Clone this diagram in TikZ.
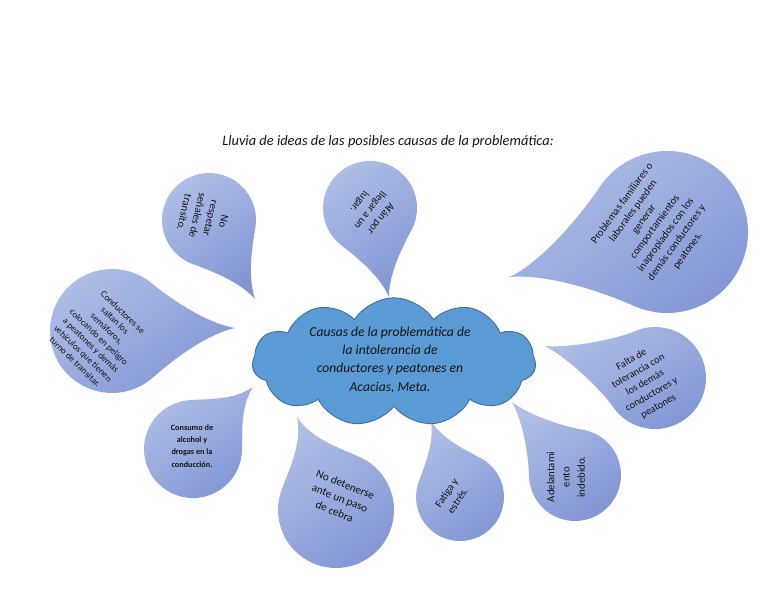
\documentclass[tikz,border=0pt]{standalone}
\usepackage{fontspec}
\setmainfont{Carlito}
\usetikzlibrary{shapes.symbols,calc}
\definecolor{DropLight}{HTML}{AFBEE6}
\definecolor{DropDark}{HTML}{8296D5}
\definecolor{CloudBlue}{HTML}{5B9BD5}
\definecolor{CloudLine}{HTML}{41719C}
\definecolor{Ink}{HTML}{141414}
\tikzset{
 drop/.style={top color=DropLight, bottom color=DropDark, shading angle=35},
 cloudbox/.style={cloud, cloud puffs=11, cloud puff arc=115, aspect=2.2, fill=CloudBlue, draw=CloudLine, line width=0.8pt, minimum width=8.5cm, minimum height=3.85cm, inner sep=0pt},
 droptext/.style={align=center, text=Ink, inner sep=0pt, font=\fontsize{9}{11.5}\selectfont},
 smalltext/.style={droptext, font=\fontsize{7.8}{9.8}\selectfont},
 handtext/.style={align=center, text=Ink, inner sep=0pt, font=\itshape\fontsize{11.6}{15.5}\selectfont}
}

\begin{document}
\begin{tikzpicture}[x=0.03cm,y=0.03cm]
\useasboundingbox (0,0) rectangle (768,594);
\foreach \cx/\cy/\r/\tx/\ty in {
209/374/47/255/295,
370/386/47/389/297,
667/362/81/510/317,
112/263/62/235/266,
193/145/49/253/207,
336/84/58/297/177,
460/97/44/431/173,
575/119/46/512/192,
655/216/51/545/248}{
  \pgfmathsetmacro{\ang}{atan2(\ty-\cy,\tx-\cx)}
  \pgfmathsetmacro{\k}{veclen(\tx-\cx,\ty-\cy)/\r}
  \begin{scope}[shift={(\cx,\cy)},rotate=\ang,scale=\r]
    \shade[drop] (\k,0) .. controls (\k-0.5,0.1) and (0.91,0.54) .. (50:1)
      arc[start angle=50,end angle=310,radius=1]
      .. controls (0.91,-0.54) and (\k-0.5,-0.1) .. (\k,0) -- cycle;
  \end{scope}
}
\node[cloudbox] (nube) at (394,232) {};
\node[handtext] (causas) at (390,234) {Causas de la problemática de\\la intolerancia de\\conductores y peatones en\\Acacias, Meta.};
\node[handtext, font=\itshape\fontsize{12.3}{14}\selectfont] (titulo) at (388,452) {Lluvia de ideas de las posibles causas de la problemática:};
\node[droptext, rotate=-103, font=\fontsize{9.2}{11.5}\selectfont] (respetar) at (204,377) {No\\respetar\\señales de\\transito.};
\node[droptext, rotate=-128] (afan) at (370,384) {Afán por\\llegar a un\\lugar.};
\node[droptext, rotate=54] (familiares) at (655,367) {Problemas familiares o\\laborales pueden\\generar\\comportamientos\\inapropiados con los\\demás conductores y\\peatones.};
\node[smalltext, rotate=-44] (semaforos) at (99,257) {Conductores se\\saltan los\\semáforos,\\colocando en peligro\\a peatones y demás\\vehículos que tienen\\turno de transitar.};
\node[smalltext, font=\bfseries\fontsize{7}{10.5}\selectfont] (alcohol) at (192,148) {Consumo de\\alcohol y\\drogas en la\\conducción.};
\node[droptext, rotate=-22, font=\fontsize{9.6}{12.5}\selectfont] (cebra) at (340,96) {No detenerse\\ante un paso\\de cebra};
\node[droptext, rotate=56] (fatiga) at (452,97) {Fatiga y\\estrés.};
\node[droptext, rotate=90, font=\fontsize{9.2}{13}\selectfont] (adelanto) at (566,117) {Adelantami\\ento\\indebido.};
\node[droptext, rotate=30, font=\fontsize{8.8}{11.5}\selectfont] (tolerancia) at (645,211) {Falta de\\tolerancia con\\los demás\\conductores y\\peatones};
\end{tikzpicture}
\end{document}
